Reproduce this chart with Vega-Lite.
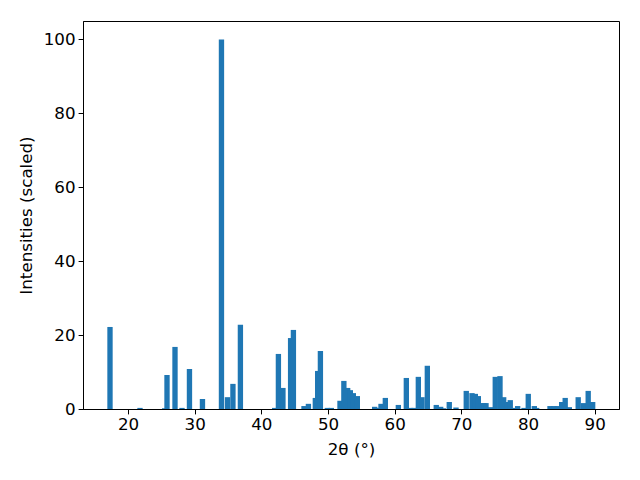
{
  "$schema": "https://vega.github.io/schema/vega-lite/v6.json",
  "autosize": "none",
  "width": 536,
  "height": 388,
  "padding": {"left": 83, "top": 21, "right": 21, "bottom": 71},
  "config": {
    "font": "DejaVu Sans",
    "view": {"stroke": "black", "strokeWidth": 1},
    "axis": {
      "grid": false,
      "domainColor": "black",
      "tickColor": "black",
      "tickSize": 4.9,
      "tickWidth": 1,
      "labelColor": "black",
      "labelFont": "DejaVu Sans",
      "labelFontSize": 16.7,
      "labelPadding": 3,
      "titleFont": "DejaVu Sans",
      "titleFontSize": 16.7,
      "titleFontWeight": "normal",
      "titleColor": "black"
    }
  },
  "data": {
    "values": [
      {"two_theta": 17.3, "intensity": 22.2},
      {"two_theta": 21.8, "intensity": 0.3},
      {"two_theta": 25.5, "intensity": 0.2},
      {"two_theta": 25.85, "intensity": 9.2},
      {"two_theta": 27.05, "intensity": 16.8},
      {"two_theta": 28.1, "intensity": 0.3},
      {"two_theta": 29.22, "intensity": 10.8},
      {"two_theta": 31.17, "intensity": 2.7},
      {"two_theta": 34.02, "intensity": 100},
      {"two_theta": 34.92, "intensity": 3.2},
      {"two_theta": 35.74, "intensity": 6.8},
      {"two_theta": 36.86, "intensity": 22.8},
      {"two_theta": 42.0, "intensity": 0.3},
      {"two_theta": 42.56, "intensity": 14.9},
      {"two_theta": 43.24, "intensity": 5.7},
      {"two_theta": 44.39, "intensity": 19.2},
      {"two_theta": 44.81, "intensity": 21.4},
      {"two_theta": 46.4, "intensity": 0.8},
      {"two_theta": 47.06, "intensity": 1.4},
      {"two_theta": 48.1, "intensity": 3.0},
      {"two_theta": 48.45, "intensity": 10.3},
      {"two_theta": 48.86, "intensity": 15.7},
      {"two_theta": 49.9, "intensity": 0.3},
      {"two_theta": 50.5, "intensity": 0.3},
      {"two_theta": 51.8, "intensity": 2.2},
      {"two_theta": 52.38, "intensity": 7.6},
      {"two_theta": 52.95, "intensity": 5.7},
      {"two_theta": 53.35, "intensity": 5.1},
      {"two_theta": 53.8, "intensity": 4.3},
      {"two_theta": 54.4, "intensity": 3.5},
      {"two_theta": 57.0, "intensity": 0.6},
      {"two_theta": 57.6, "intensity": 0.3},
      {"two_theta": 57.95, "intensity": 1.4},
      {"two_theta": 58.6, "intensity": 3.0},
      {"two_theta": 60.55, "intensity": 1.1},
      {"two_theta": 61.75, "intensity": 8.4},
      {"two_theta": 62.4, "intensity": 0.3},
      {"two_theta": 62.9, "intensity": 0.3},
      {"two_theta": 63.55, "intensity": 8.7},
      {"two_theta": 64.1, "intensity": 3.2},
      {"two_theta": 64.9, "intensity": 11.7},
      {"two_theta": 66.24, "intensity": 1.1},
      {"two_theta": 66.9, "intensity": 0.6},
      {"two_theta": 67.3, "intensity": 0.2},
      {"two_theta": 68.19, "intensity": 1.9},
      {"two_theta": 69.2, "intensity": 0.4},
      {"two_theta": 70.74, "intensity": 4.9},
      {"two_theta": 71.6, "intensity": 4.3},
      {"two_theta": 72.1, "intensity": 4.1},
      {"two_theta": 72.55, "intensity": 3.5},
      {"two_theta": 72.9, "intensity": 1.6},
      {"two_theta": 73.4, "intensity": 1.6},
      {"two_theta": 73.7, "intensity": 1.6},
      {"two_theta": 74.35, "intensity": 0.5},
      {"two_theta": 75.09, "intensity": 8.7},
      {"two_theta": 75.8, "intensity": 8.9},
      {"two_theta": 76.35, "intensity": 3.2},
      {"two_theta": 76.85, "intensity": 1.9},
      {"two_theta": 77.34, "intensity": 2.4},
      {"two_theta": 78.1, "intensity": 0.3},
      {"two_theta": 78.45, "intensity": 0.8},
      {"two_theta": 79.4, "intensity": 0.3},
      {"two_theta": 80.04, "intensity": 4.1},
      {"two_theta": 80.95, "intensity": 0.8},
      {"two_theta": 81.3, "intensity": 0.3},
      {"two_theta": 83.3, "intensity": 0.8},
      {"two_theta": 83.9, "intensity": 0.8},
      {"two_theta": 84.4, "intensity": 0.8},
      {"two_theta": 85.05, "intensity": 1.9},
      {"two_theta": 85.58, "intensity": 3.0},
      {"two_theta": 86.2, "intensity": 0.5},
      {"two_theta": 87.53, "intensity": 3.2},
      {"two_theta": 88.3, "intensity": 1.6},
      {"two_theta": 89.03, "intensity": 4.9},
      {"two_theta": 89.7, "intensity": 1.9}
    ]
  },
  "mark": {"type": "bar", "color": "#1f77b4", "size": 5.34, "orient": "vertical"},
  "encoding": {
    "x": {
      "field": "two_theta",
      "type": "quantitative",
      "scale": {"domain": [13.25, 93.65], "nice": false, "zero": false, "padding": 0},
      "axis": {"values": [20, 30, 40, 50, 60, 70, 80, 90], "title": "2θ (°)", "titlePadding": 8}
    },
    "y": {
      "field": "intensity",
      "type": "quantitative",
      "scale": {"domain": [0, 105], "nice": false, "padding": 0},
      "axis": {"values": [0, 20, 40, 60, 80, 100], "title": "Intensities (scaled)", "titlePadding": 8}
    }
  }
}
